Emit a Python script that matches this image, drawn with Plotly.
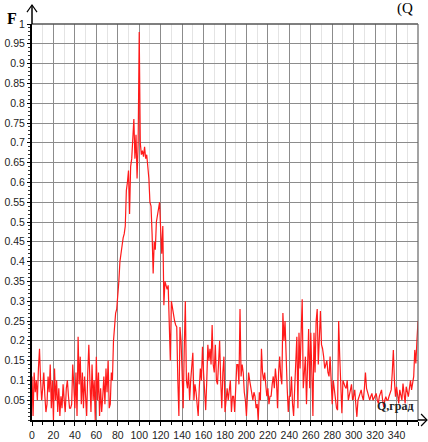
import plotly.graph_objects as go

# ---------------- data ----------------
angle_deg = list(range(0, 361))

F_values = [
    # 0-9
    0.11, 0.01, 0.12, 0.07, 0.10, 0.05, 0.13, 0.18, 0.10, 0.05,
    # 10-19
    0.08, 0.12, 0.06, 0.02, 0.04, 0.11, 0.07, 0.14, 0.03, 0.10,
    # 20-29
    0.00, 0.13, 0.05, 0.10, 0.02, 0.08, 0.01, 0.06, 0.03, 0.09,
    # 30-39
    0.05, 0.02, 0.08, 0.10, 0.06, 0.03, 0.03, 0.04, 0.14, 0.07,
    # 40-49
    0.03, 0.12, 0.01, 0.21, 0.09, 0.16, 0.04, 0.12, 0.03, 0.11,
    # 50-59
    0.07, 0.01, 0.12, 0.19, 0.10, 0.02, 0.14, 0.05, 0.10, 0.00,
    # 60-69
    0.16, 0.05, 0.12, 0.01, 0.08, 0.02, 0.06, 0.11, 0.04, 0.13,
    # 70-79
    0.07, 0.15, 0.03, 0.04, 0.12, 0.10, 0.20, 0.24, 0.27, 0.28,
    # 80-89
    0.31, 0.35, 0.40, 0.43, 0.44, 0.46, 0.47, 0.49, 0.58, 0.60,
    # 90-99
    0.63, 0.52, 0.64, 0.66, 0.70, 0.76, 0.66, 0.72, 0.61, 0.70,
    # 100-109
    0.98, 0.70, 0.67, 0.68, 0.665, 0.69, 0.66, 0.67, 0.64, 0.61,
    # 110-119
    0.55, 0.54, 0.47, 0.37, 0.45, 0.43, 0.50, 0.52, 0.53, 0.55,
    # 120-129
    0.48, 0.42, 0.49, 0.29, 0.35, 0.34, 0.33, 0.34, 0.25, 0.15,
    # 130-139
    0.30, 0.28, 0.26, 0.25, 0.24, 0.235, 0.10, 0.01, 0.235, 0.20,
    # 140-149
    0.12, 0.03, 0.18, 0.30, 0.10, 0.08, 0.12, 0.05, 0.10, 0.13,
    # 150-159
    0.17, 0.05, 0.09, 0.07, 0.03, 0.01, 0.08, 0.13, 0.10, 0.185,
    # 160-169
    0.12, 0.08, 0.025, 0.10, 0.19, 0.15, 0.18, 0.14, 0.24, 0.14,
    # 170-179
    0.12, 0.19, 0.10, 0.09, 0.15, 0.20, 0.10, 0.03, 0.12, 0.16,
    # 180-189
    0.02, 0.06, 0.08, 0.05, 0.07, 0.10, 0.02, 0.06, 0.06, 0.02,
    # 190-199
    0.08, 0.14, 0.14, 0.09, 0.28, 0.11, 0.14, 0.12, 0.07, 0.05,
    # 200-209
    0.01, 0.06, 0.12, 0.10, 0.08, 0.06, 0.05, 0.07, 0.06, 0.03,
    # 210-219
    0.04, 0.00, 0.07, 0.05, 0.18, 0.12, 0.10, 0.12, 0.09, 0.06,
    # 220-229
    0.08, 0.04, 0.06, 0.06, 0.09, 0.11, 0.08, 0.13, 0.10, 0.03,
    # 230-239
    0.12, 0.16, 0.11, 0.09, 0.27, 0.20, 0.25, 0.14, 0.08, 0.02,
    # 240-249
    0.06, 0.06, 0.11, 0.04, 0.01, 0.08, 0.15, 0.21, 0.03, 0.22,
    # 250-259
    0.13, 0.20, 0.305, 0.08, 0.12, 0.16, 0.04, 0.14, 0.23, 0.08,
    # 260-269
    0.22, 0.12, 0.01, 0.22, 0.12, 0.25, 0.28, 0.14, 0.20, 0.275,
    # 270-279
    0.19, 0.18, 0.16, 0.13, 0.14, 0.15, 0.12, 0.11, 0.16, 0.08,
    # 280-289
    0.04, 0.10, 0.08, 0.06, 0.03, 0.025, 0.25, 0.16, 0.10, 0.017,
    # 290-299
    0.10, 0.09, 0.084, 0.08, 0.10, 0.05, 0.06, 0.076, 0.09, 0.05,
    # 300-309
    0.06, 0.076, 0.04, 0.008, 0.05, 0.059, 0.07, 0.076, 0.06, 0.05,
    # 310-319
    0.08, 0.12, 0.08, 0.067, 0.06, 0.05, 0.06, 0.067, 0.05, 0.055,
    # 320-329
    0.06, 0.067, 0.05, 0.042, 0.06, 0.07, 0.076, 0.05, 0.033, 0.05,
    # 330-339
    0.059, 0.05, 0.05, 0.06, 0.07, 0.076, 0.12, 0.177, 0.10, 0.059,
    # 340-349
    0.084, 0.06, 0.042, 0.076, 0.06, 0.05, 0.092, 0.07, 0.042, 0.084,
    # 350-359
    0.07, 0.059, 0.08, 0.10, 0.076, 0.09, 0.11, 0.177, 0.143, 0.20,
    # 360
    0.25,
]

x_tick_vals = list(range(0, 361, 20))
x_tick_text = [str(v) for v in range(0, 341, 20)] + [""]
y_tick_vals = [round(0.05 * i, 2) for i in range(1, 21)]
y_tick_text = ["0.05", "0.1", "0.15", "0.2", "0.25", "0.3", "0.35", "0.4", "0.45", "0.5",
               "0.55", "0.6", "0.65", "0.7", "0.75", "0.8", "0.85", "0.9", "0.95", "1"]

y_label = "F"
x_label = "Q,град"
top_text = "(Q"

# ---------------- figure ----------------
fig = go.Figure()
fig.add_trace(go.Scatter(
    x=angle_deg, y=F_values, mode="lines",
    line=dict(color="#ff1a1a", width=1.2),
    hoverinfo="skip", showlegend=False,
))

tick_font = dict(family="Liberation Sans Narrow, Arial Narrow, Liberation Sans, Arial", size=10.5, color="#222")

fig.update_layout(
    width=428, height=442,
    margin=dict(l=32, r=10, t=24, b=22, pad=0),
    paper_bgcolor="white", plot_bgcolor="white",
    showlegend=False,
    xaxis=dict(
        range=[0, 360], tickmode="array", tickvals=x_tick_vals, ticktext=x_tick_text,
        showgrid=True, gridcolor="#8c8c8c", gridwidth=1.2,
        ticks="outside", ticklen=4, tickcolor="black", tickwidth=1,
        showline=True, linecolor="black", linewidth=2, zeroline=False,
        tickfont=tick_font, automargin=False,
        minor=dict(dtick=10, tick0=0, showgrid=True, gridcolor="#e4e4e4", gridwidth=1,
                   ticks="outside", ticklen=3, tickcolor="black"),
    ),
    yaxis=dict(
        range=[0, 1], tickmode="array", tickvals=y_tick_vals, ticktext=y_tick_text,
        showgrid=True, gridcolor="#8c8c8c", gridwidth=1.2,
        ticks="outside", ticklen=3, tickcolor="black", tickwidth=1,
        showline=True, linecolor="black", linewidth=2, zeroline=False,
        tickfont=tick_font, automargin=False,
        minor=dict(dtick=0.01, tick0=0, showgrid=False,
                   ticks="outside", ticklen=2, tickcolor="#333"),
    ),
)

# borders (top and right) and axis arrows
shapes = [
    dict(type="line", xref="paper", yref="paper", x0=0, x1=1, y0=1, y1=1,
         line=dict(color="#555", width=1.5)),
    dict(type="line", xref="paper", yref="paper", x0=1, x1=1, y0=0, y1=1,
         line=dict(color="#666", width=1.2)),
    # y-axis extension + arrow
    dict(type="line", xref="paper", yref="paper", x0=0, x1=0, y0=1, y1=1.048,
         line=dict(color="black", width=1.5)),
    dict(type="path", xref="paper", yref="paper",
         path="M -0.013,1.030 L 0,1.048 L 0.013,1.030",
         line=dict(color="black", width=1.2)),
    # x-axis extension + arrow
    dict(type="line", xref="paper", yref="paper", x0=1, x1=1.0233, y0=0, y1=0,
         line=dict(color="black", width=1.5)),
    dict(type="path", xref="paper", yref="paper",
         path="M 1.008,0.0152 L 1.0233,0 L 1.008,-0.0152",
         line=dict(color="black", width=1.2)),
]
fig.update_layout(shapes=shapes)

fig.add_annotation(text="<b>" + y_label + "</b>", xref="paper", yref="paper",
                   x=-0.052, y=1.015, showarrow=False, xanchor="center", yanchor="middle",
                   font=dict(family="Liberation Serif, Times New Roman, serif", size=16, color="black"))
fig.add_annotation(text="<b>" + x_label + "</b>", xref="paper", yref="paper",
                   x=0.943, y=0.036, showarrow=False, xanchor="center", yanchor="middle",
                   font=dict(family="Liberation Serif, Times New Roman, serif", size=12, color="#222"))
fig.add_annotation(text=top_text, xref="paper", yref="paper",
                   x=0.94, y=1.040, showarrow=False, xanchor="left", yanchor="middle",
                   font=dict(family="Liberation Serif, Times New Roman, serif", size=15, color="black"))

fig.write_html("out.html")
